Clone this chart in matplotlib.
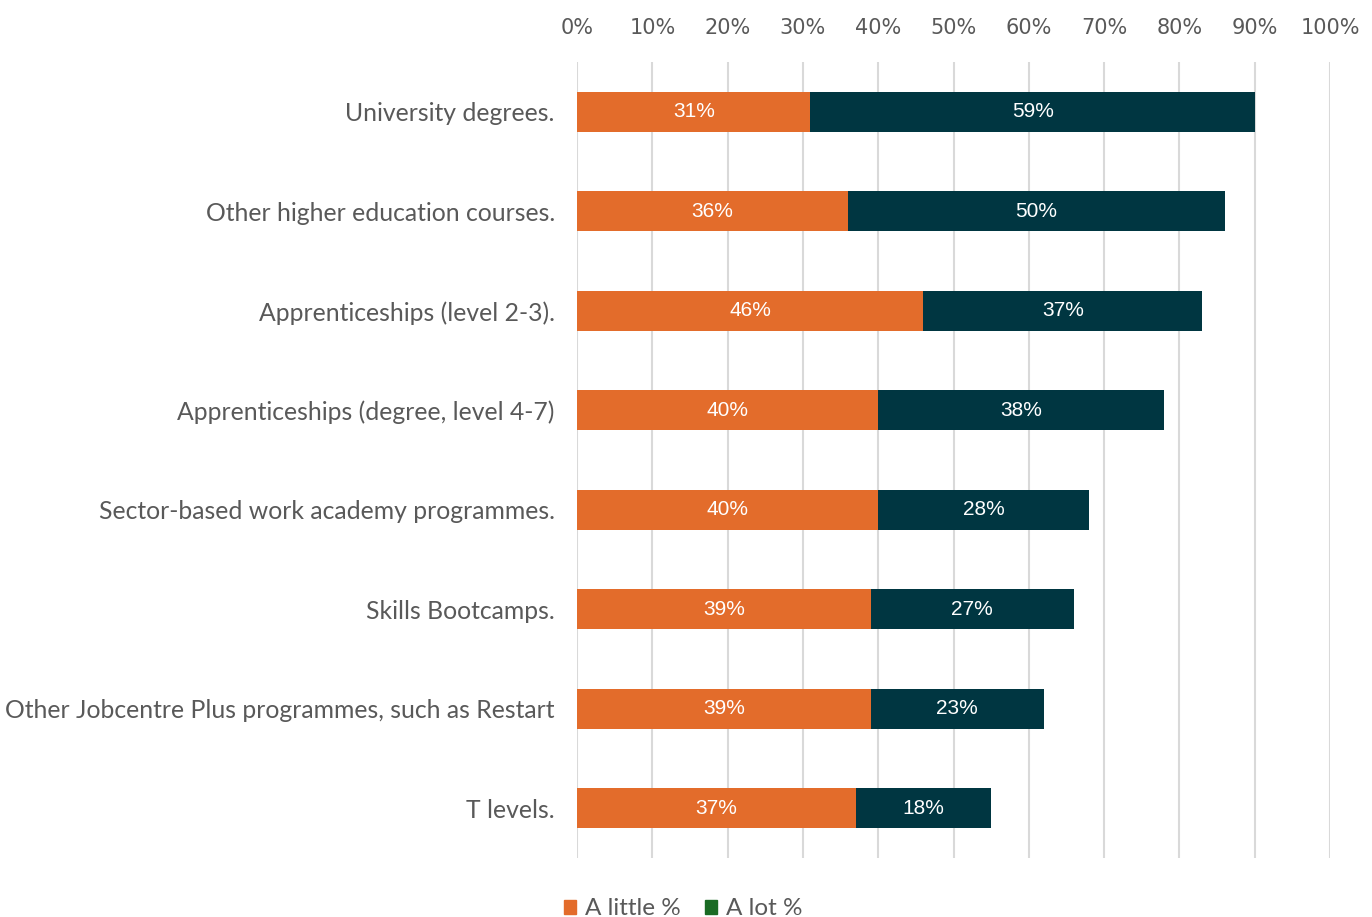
import matplotlib.pyplot as plt
from matplotlib.patches import Patch

categories = [
    "University degrees.",
    "Other higher education courses.",
    "Apprenticeships (level 2-3).",
    "Apprenticeships (degree, level 4-7)",
    "Sector-based work academy programmes.",
    "Skills Bootcamps.",
    "Other Jobcentre Plus programmes, such as Restart",
    "T levels.",
]
a_little = [31, 36, 46, 40, 40, 39, 39, 37]
a_lot = [59, 50, 37, 38, 28, 27, 23, 18]
xticks = [0, 10, 20, 30, 40, 50, 60, 70, 80, 90, 100]

orange = "#e36c2b"
navy = "#003641"
legend_green = "#1a6b24"
grey_text = "#595959"

fig = plt.figure(figsize=(13.72, 9.17), dpi=100)
ax = fig.add_axes([0.4206, 0.0643, 0.5488, 0.8681])

y = list(range(len(categories)))
ax.barh(y, a_little, height=0.4, color=orange, zorder=3)
ax.barh(y, a_lot, left=a_little, height=0.4, color=navy, zorder=3)

# value labels in the middle of each segment
for i in y:
    ax.text(a_little[i] / 2, i, f"{a_little[i]}%", color="white",
            ha="center", va="center", fontsize=15, family="Liberation Sans", zorder=4)
    ax.text(a_little[i] + a_lot[i] / 2, i, f"{a_lot[i]}%", color="white",
            ha="center", va="center", fontsize=15, family="Liberation Sans", zorder=4)

ax.set_xlim(0, 100)
ax.set_ylim(len(categories) - 0.5, -0.5)
ax.set_xticks(xticks)
ax.set_xticklabels([f"{t}%" for t in xticks], family="Liberation Sans Narrow",
                   fontsize=15, color=grey_text)
ax.xaxis.tick_top()
ax.tick_params(axis="x", length=0, pad=17.5)
ax.set_yticks(y)
ax.set_yticklabels(categories, family="Lato", fontsize=17.8, color=grey_text)
ax.tick_params(axis="y", length=0, pad=16)

ax.grid(axis="x", color="#d9d9d9", linewidth=1.5, zorder=0)
for s in ax.spines.values():
    s.set_visible(False)

handles = [Patch(color=orange, label="A little %"),
           Patch(color=legend_green, label="A lot %")]
fig.legend(handles=handles, loc="center", bbox_to_anchor=(0.498, 0.009),
           ncol=2, frameon=False, handlelength=0.5, handleheight=0.5,
           handletextpad=0.35, columnspacing=1.0,
           prop={"family": "Lato", "size": 17.5},
           labelcolor=grey_text)

fig.savefig("out.png", dpi=100)
